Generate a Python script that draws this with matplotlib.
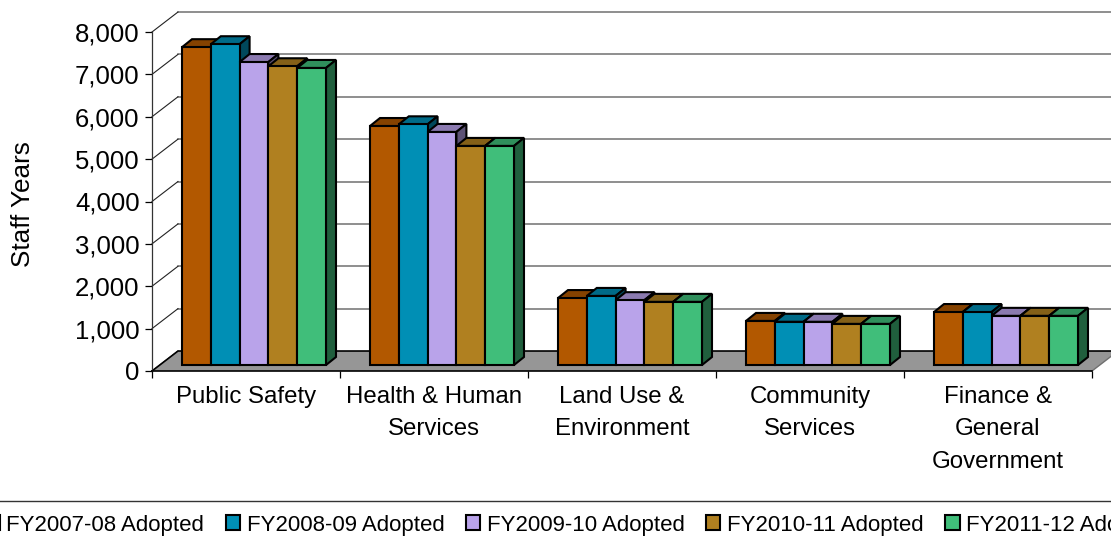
import matplotlib
matplotlib.use('Agg')
import matplotlib.pyplot as plt
from matplotlib.patches import Patch
from matplotlib.colors import to_rgb

plt.rcParams['font.family'] = ['Liberation Sans', 'DejaVu Sans']

categories = ['Public Safety', 'Health & Human\nServices', 'Land Use &\nEnvironment',
              'Community\nServices', 'Finance &\nGeneral\nGovernment']
years = ['FY2007-08 Adopted', 'FY2008-09 Adopted', 'FY2009-10 Adopted',
         'FY2010-11 Adopted', 'FY2011-12 Adopted']
fy0708 = [7500, 5640, 1580, 1040, 1250]
fy0809 = [7570, 5680, 1630, 1020, 1250]
fy0910 = [7150, 5500, 1530, 1020, 1160]
fy1011 = [7050, 5170, 1490, 970, 1160]
fy1112 = [7010, 5170, 1490, 970, 1160]
series = [fy0708, fy0809, fy0910, fy1011, fy1112]
colors = ['#B25800', '#008FB5', '#B9A3EA', '#B08020', '#40BE7A']

# size of one category and 1000 staff years in pixels
cat_px = 188.0
y_px = 42.4 / 1000

floor_dx = 26 / cat_px
floor_dy = 20 / y_px
bar_dx = 10 / cat_px
bar_dy = 8 / y_px
bar_w = 28.8 / cat_px
bar_start = 30 / cat_px
bar_base = 6 / y_px
edge = 1.5


def shade(c, f):
    return tuple(v * f for v in to_rgb(c))


fig = plt.figure(figsize=(11.11, 5.43), dpi=100)
ax = fig.add_axes([152 / 1111, (543 - 371) / 543, 940 / 1111, 339 / 543])
ax.set_xlim(0, 5)
ax.set_ylim(0, 8000)

# back wall and left wall lines
for v in range(0, 9000, 1000):
    if v > 0:
        ax.plot([floor_dx, 5 + floor_dx], [v + floor_dy, v + floor_dy], color='#707070',
                lw=1.1, clip_on=False, zorder=1)
    ax.plot([0, floor_dx], [v, v + floor_dy], color='#222222', lw=0.8, clip_on=False, zorder=1)

# floor
ax.fill([0, floor_dx, 5 + floor_dx, 5], [0, floor_dy, floor_dy, 0], facecolor='#969696',
        edgecolor='none', clip_on=False, zorder=2)
ax.plot([0, floor_dx, 5 + floor_dx], [0, floor_dy, floor_dy], color='black', lw=1.2,
        clip_on=False, zorder=2)
ax.plot([5, 5 + floor_dx], [0, floor_dy], color='#707070', lw=1, clip_on=False, zorder=2)

# bars, left to right so the next front hides the previous side
z = 3
for i in range(len(categories)):
    for j, vals in enumerate(series):
        v = vals[i]
        x0 = i + bar_start + j * bar_w
        x1 = x0 + bar_w
        top = bar_base + v
        ax.fill([x0, x0 + bar_dx, x1 + bar_dx, x1], [top, top + bar_dy, top + bar_dy, top],
                facecolor=shade(colors[j], 0.75), edgecolor='black', lw=edge, clip_on=False, zorder=z)
        ax.fill([x1, x1 + bar_dx, x1 + bar_dx, x1],
                [bar_base, bar_base + bar_dy, top + bar_dy, top],
                facecolor=shade(colors[j], 0.5), edgecolor='black', lw=edge, clip_on=False, zorder=z)
        ax.bar(x0, v, bar_w, bottom=bar_base, align='edge', color=colors[j], edgecolor='black',
               linewidth=edge, clip_on=False, zorder=z)
        z += 1

for s in ['top', 'right']:
    ax.spines[s].set_visible(False)
ax.spines['left'].set_color('#333333')
ax.spines['left'].set_linewidth(0.9)
ax.spines['bottom'].set_linewidth(1.2)
ax.spines['bottom'].set_zorder(2.5)

ax.set_yticks(range(0, 9000, 1000))
ax.set_yticklabels([f'{v:,}' for v in range(0, 9000, 1000)], fontsize=18.5)
ax.tick_params(axis='y', length=5, width=0.9, pad=4)
ax.set_xticks(range(6))
ax.set_xticklabels([])
ax.tick_params(axis='x', length=5, width=0.9)
ax.set_xticks([i + 0.5 for i in range(5)], minor=True)
ax.set_xticklabels(categories, minor=True, fontsize=17.3, linespacing=1.6)
ax.tick_params(axis='x', which='minor', length=0, pad=11)

fig.text(23 / 1111, 1 - 204 / 543, 'Staff Years', rotation=90, ha='center', va='center', fontsize=18.8)

handles = [Patch(facecolor=c, edgecolor='black', linewidth=1.5) for c in colors]
leg = fig.legend(handles, years, ncol=5, loc='center', bbox_to_anchor=(574 / 1111, 1 - 525 / 543),
                 fontsize=16, frameon=True, fancybox=False, edgecolor='#333333', framealpha=1,
                 handlelength=0.65, handleheight=0.65, handletextpad=0.3, columnspacing=0.96,
                 borderpad=0.6)
leg.get_frame().set_linewidth(1.0)

fig.savefig('out.png', dpi=100)
